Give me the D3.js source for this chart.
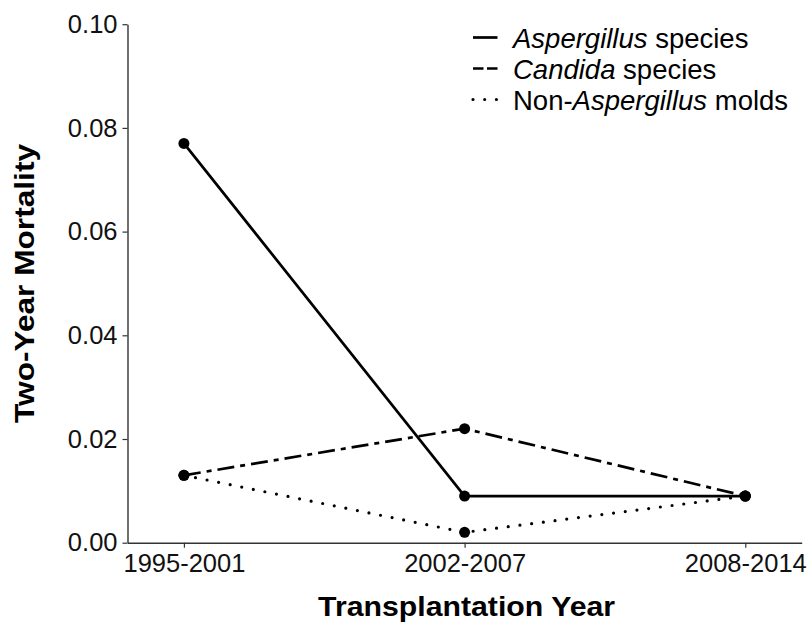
<!DOCTYPE html>
<html>
<head>
<meta charset="utf-8">
<script src="https://cdn.jsdelivr.net/npm/d3@7"></script>
<style>
  html, body { margin: 0; padding: 0; background: #fff; }
  svg { display: block; font-family: "Liberation Sans", Arial, sans-serif; }
</style>
</head>
<body>
<svg id="chart" width="811" height="622"></svg>
<script>
// ---- data ----
const periods = ["1995-2001", "2002-2007", "2008-2014"];
const aspergillus = [0.077, 0.009, 0.009];
const candida = [0.013, 0.022, 0.009];
const nonAspergillus = [0.013, 0.002, 0.009];
const yTicks = [0, 0.02, 0.04, 0.06, 0.08, 0.10];
const seriesNames = ["Aspergillus", "Candida", "Non-Aspergillus"];

// ---- layout ----
const svg = d3.select("#chart");
const pLeft = 127.5, pRight = 801.7, pTop = 24.2, pBottom = 542.7;

const x = d3.scalePoint().domain(periods).range([pLeft, pRight]).padding(0.201);
const y = d3.scaleLinear().domain([0, 0.10]).range([pBottom, pTop]);

const series = [
  { name: seriesNames[0], values: aspergillus, dash: null, width: 2.7, cap: "butt" },
  { name: seriesNames[1], values: candida, dash: "17,6,5,6", width: 2.7, cap: "butt" },
  { name: seriesNames[2], values: nonAspergillus, dash: "0,11.8", width: 3.2, cap: "round" }
];

// axes
const yAxis = d3.axisLeft(y).tickValues(yTicks).tickFormat(d3.format(".2f"))
  .tickSize(5).tickSizeOuter(0).tickPadding(5);
const xAxis = d3.axisBottom(x).tickSize(5).tickSizeOuter(0).tickPadding(6);

const gy = svg.append("g").attr("transform", `translate(${pLeft},0)`).call(yAxis);
const gx = svg.append("g").attr("transform", `translate(0,${pBottom})`).call(xAxis);

[gx, gy].forEach(g => {
  g.select(".domain").attr("stroke", "#333").attr("stroke-width", 1.4);
  g.selectAll(".tick line").attr("stroke", "#333").attr("stroke-width", 1.2);
  g.selectAll(".tick text").attr("fill", "#111").attr("font-size", 25.5)
    .attr("font-family", '"Liberation Sans", Arial, sans-serif');
});

// lines
const line = d3.line().x((d, i) => x(periods[i])).y(d => y(d));
series.forEach(s => {
  svg.append("path")
    .datum(s.values)
    .attr("d", line)
    .attr("fill", "none")
    .attr("stroke", "#000")
    .attr("stroke-width", s.width)
    .attr("stroke-linecap", s.cap)
    .attr("stroke-dasharray", s.dash);
});

// points
series.forEach(s => {
  svg.append("g").selectAll("circle")
    .data(s.values)
    .join("circle")
    .attr("cx", (d, i) => x(periods[i]))
    .attr("cy", d => y(d))
    .attr("r", 5.5)
    .attr("fill", "#000");
});

// axis titles
svg.append("text")
  .attr("x", (pLeft + pRight) / 2 + 2)
  .attr("y", 616)
  .attr("text-anchor", "middle")
  .attr("font-weight", "bold")
  .attr("font-size", 28)
  .attr("textLength", 297)
  .attr("lengthAdjust", "spacingAndGlyphs")
  .attr("fill", "#000")
  .text("Transplantation Year");

svg.append("text")
  .attr("transform", `translate(34,${(pTop + pBottom) / 2}) rotate(-90)`)
  .attr("text-anchor", "middle")
  .attr("font-weight", "bold")
  .attr("font-size", 28)
  .attr("textLength", 279)
  .attr("lengthAdjust", "spacingAndGlyphs")
  .attr("fill", "#000")
  .text("Two-Year Mortality");

// legend
const legendRows = [
  { italic: "Aspergillus", tail: " species", pre: "", dash: null, width: 2.7, cap: "butt" },
  { italic: "Candida", tail: " species", pre: "", dash: "10.5,3.5", width: 2.7, cap: "butt" },
  { italic: "Aspergillus", tail: " molds", pre: "Non-", dash: "0,11.7", width: 3.2, cap: "round" }
];
const legend = svg.append("g");
legendRows.forEach((r, i) => {
  const base = 47.5 + i * 31;
  const cy = base - 10;
  legend.append("line")
    .attr("x1", 473).attr("x2", 497.5)
    .attr("y1", cy).attr("y2", cy)
    .attr("stroke", "#000")
    .attr("stroke-width", r.width)
    .attr("stroke-linecap", r.cap)
    .attr("stroke-dasharray", r.dash);
  const t = legend.append("text")
    .attr("x", 513).attr("y", base)
    .attr("font-size", 27.5)
    .attr("fill", "#000");
  if (r.pre) t.append("tspan").text(r.pre);
  t.append("tspan").attr("font-style", "italic").text(r.italic);
  t.append("tspan").text(r.tail);
});
</script>
</body>
</html>
